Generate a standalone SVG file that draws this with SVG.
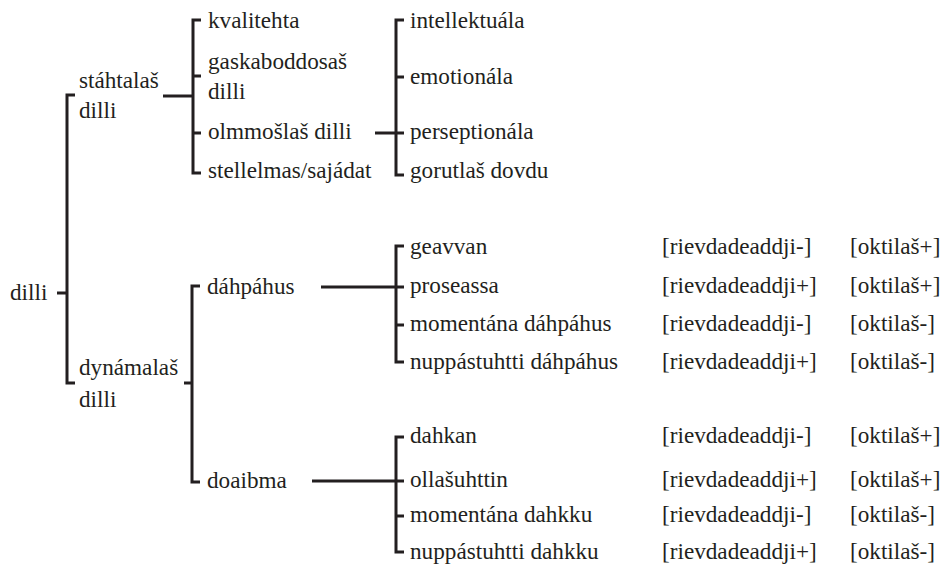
<svg xmlns="http://www.w3.org/2000/svg" width="944" height="569" viewBox="0 0 944 569">
<style>
text{font-family:'Liberation Serif','Times New Roman',serif;font-size:23.2px;fill:#231f20}
.c path{fill:none;stroke:#231f20;stroke-width:3;stroke-linecap:butt;stroke-linejoin:miter}
</style>
<rect width="944" height="569" fill="#fff"/>
<g class="c" id="connectors">
<path d="M57,293H67"/>
<path d="M75,95H67V383H75"/>
<path d="M163,96H193"/>
<path d="M201,20H193V173H201M193,76H201M193,133H201"/>
<path d="M375,133H396"/>
<path d="M404,20H396V175H404M396,77H404M396,133H404"/>
<path d="M184,383H192"/>
<path d="M200,286H192V482H200"/>
<path d="M321,287H396"/>
<path d="M404,246H396V362H404M396,287H404M396,325H404"/>
<path d="M312,481H396"/>
<path d="M404,437H396V552H404M396,481H404M396,516H404"/>
</g>
<g id="n-dilli"><text x="10" y="300">dilli</text></g>
<g id="n-stahtalas"><text x="79" y="88">stáhtalaš</text><text x="79" y="118">dilli</text></g>
<g id="n-dynamalas"><text x="79" y="375">dynámalaš</text><text x="79" y="407">dilli</text></g>
<g id="n-kvalitehta"><text x="208" y="28">kvalitehta</text></g>
<g id="n-gaskaboddosas"><text x="208" y="69">gaskaboddosaš</text><text x="208" y="99">dilli</text></g>
<g id="n-olmmoslas"><text x="208" y="139">olmmošlaš dilli</text></g>
<g id="n-stellelmas"><text x="208" y="178">stellelmas/sajádat</text></g>
<g id="n-intellektuala"><text x="410" y="28">intellektuála</text></g>
<g id="n-emotionala"><text x="410" y="84">emotionála</text></g>
<g id="n-perseptionala"><text x="410" y="139">perseptionála</text></g>
<g id="n-gorutlas"><text x="410" y="178">gorutlaš dovdu</text></g>
<g id="n-dahpahus"><text x="207" y="294">dáhpáhus</text></g>
<g id="n-doaibma"><text x="207" y="488">doaibma</text></g>
<g id="n-geavvan"><text x="410" y="254">geavvan</text><text x="662" y="254">[rievdadeaddji-]</text><text x="850" y="254">[oktilaš+]</text></g>
<g id="n-proseassa"><text x="410" y="293">proseassa</text><text x="662" y="293">[rievdadeaddji+]</text><text x="850" y="293">[oktilaš+]</text></g>
<g id="n-momentana-dahpahus"><text x="410" y="331">momentána dáhpáhus</text><text x="662" y="331">[rievdadeaddji-]</text><text x="850" y="331">[oktilaš-]</text></g>
<g id="n-nuppastuhtti-dahpahus"><text x="410" y="369">nuppástuhtti dáhpáhus</text><text x="662" y="369">[rievdadeaddji+]</text><text x="850" y="369">[oktilaš-]</text></g>
<g id="n-dahkan"><text x="410" y="443">dahkan</text><text x="662" y="443">[rievdadeaddji-]</text><text x="850" y="443">[oktilaš+]</text></g>
<g id="n-ollasuhttin"><text x="410" y="487">ollašuhttin</text><text x="662" y="487">[rievdadeaddji+]</text><text x="850" y="487">[oktilaš+]</text></g>
<g id="n-momentana-dahkku"><text x="410" y="522">momentána dahkku</text><text x="662" y="522">[rievdadeaddji-]</text><text x="850" y="522">[oktilaš-]</text></g>
<g id="n-nuppastuhtti-dahkku"><text x="410" y="559">nuppástuhtti dahkku</text><text x="662" y="559">[rievdadeaddji+]</text><text x="850" y="559">[oktilaš-]</text></g>
</svg>
